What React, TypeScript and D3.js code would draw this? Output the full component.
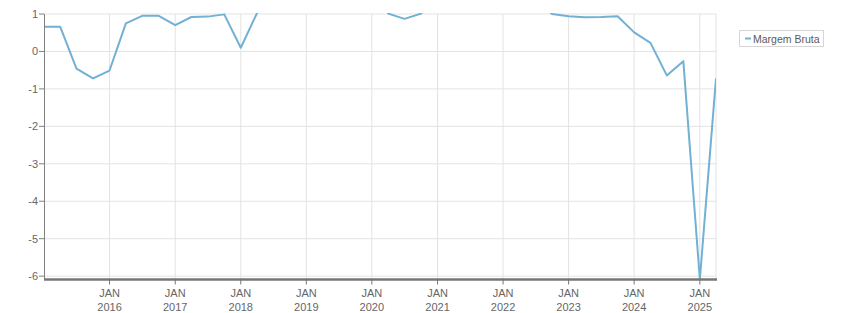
import React from "react";
import * as d3 from "d3";

const quarters: string[] = [
  "2015-01", "2015-04", "2015-07", "2015-10",
  "2016-01", "2016-04", "2016-07", "2016-10",
  "2017-01", "2017-04", "2017-07", "2017-10",
  "2018-01", "2018-04", "2018-07", "2018-10",
  "2019-01", "2019-04", "2019-07", "2019-10",
  "2020-01", "2020-04", "2020-07", "2020-10",
  "2021-01", "2021-04", "2021-07", "2021-10",
  "2022-01", "2022-04", "2022-07", "2022-10",
  "2023-01", "2023-04", "2023-07", "2023-10",
  "2024-01", "2024-04", "2024-07", "2024-10",
  "2025-01", "2025-04",
];

const margemBruta: number[] = [
  0.66, 0.66, -0.46, -0.72,
  -0.51, 0.75, 0.95, 0.95,
  0.70, 0.92, 0.93, 0.99,
  0.10, 1.02, 1.6, 2.1,
  2.5, 2.8, 3.0, 2.6,
  1.9, 1.01, 0.87, 1.01,
  1.5, 2.0, 2.3, 2.2,
  2.0, 1.8, 1.4, 1.0,
  0.94, 0.91, 0.92, 0.94,
  0.51, 0.23, -0.64, -0.26,
  -6.09, -0.72,
];

const yTicks: number[] = [1, 0, -1, -2, -3, -4, -5, -6];
const xTickYears: number[] = [2016, 2017, 2018, 2019, 2020, 2021, 2022, 2023, 2024, 2025];
const xTickMonth = "JAN";
const seriesName = "Margem Bruta";

const W = 851;
const H = 313;
const left = 44;
const right = 716;
const top = 14;
const bottom = 279.5;

export default function App() {
  const parse = d3.timeParse("%Y-%m");
  const dates = quarters.map((q) => parse(q) as Date);
  const x = d3.scaleTime().domain([dates[0], dates[dates.length - 1]]).range([left, right]);
  const y = d3.scaleLinear().domain([-6.09, 1]).range([bottom, top]);
  const data = dates.map((d, i) => ({ d, v: margemBruta[i] }));
  const line = d3
    .line<{ d: Date; v: number }>()
    .x((p) => x(p.d))
    .y((p) => y(p.v));

  const font = "'Liberation Sans', Arial, sans-serif";
  const grid = "#e3e3e3";
  const textCol = "#666";

  return (
    <svg
      width={W}
      height={H}
      style={{ position: "absolute", left: 0, top: 0, display: "block", background: "#fff" }}
    >
      <defs>
        <clipPath id="plotClip">
          <rect x={left} y={top - 1} width={right - left} height={bottom - top + 1} />
        </clipPath>
      </defs>
      {yTicks.map((t) => (
        <line key={"hg" + t} x1={left} x2={right} y1={y(t)} y2={y(t)} stroke={grid} strokeWidth={1} />
      ))}
      {xTickYears.map((yr) => {
        const xx = x(new Date(yr, 0, 1));
        return <line key={"vg" + yr} x1={xx} x2={xx} y1={top} y2={bottom} stroke={grid} strokeWidth={1} />;
      })}
      <line x1={right} x2={right} y1={top} y2={bottom} stroke={grid} strokeWidth={1} />

      <path
        d={line(data) || ""}
        fill="none"
        stroke="#72b0d4"
        strokeWidth={2}
        strokeLinejoin="round"
        clipPath="url(#plotClip)"
      />

      <line x1={left + 0.5} x2={left + 0.5} y1={top} y2={bottom} stroke="#808080" strokeWidth={1} />
      {yTicks.map((t) => (
        <g key={"yt" + t}>
          <line x1={left - 5} x2={left} y1={y(t)} y2={y(t)} stroke="#808080" strokeWidth={1} />
          <text
            x={left - 6}
            y={y(t)}
            dy="0.35em"
            textAnchor="end"
            fontFamily={font}
            fontSize={11}
            fill={textCol}
          >
            {t}
          </text>
        </g>
      ))}

      <line x1={left} x2={right + 1} y1={bottom} y2={bottom} stroke="#777" strokeWidth={2.5} />
      {xTickYears.map((yr) => {
        const xx = x(new Date(yr, 0, 1));
        return (
          <g key={"xt" + yr}>
            <line x1={xx} x2={xx} y1={bottom} y2={bottom + 5} stroke="#777" strokeWidth={1} />
            <text x={xx} y={297} textAnchor="middle" fontFamily={font} fontSize={11} fill={textCol}>
              {xTickMonth}
            </text>
            <text x={xx} y={311} textAnchor="middle" fontFamily={font} fontSize={11} fill={textCol}>
              {yr}
            </text>
          </g>
        );
      })}

      <rect x={739.5} y={30.5} width={84} height={16} fill="#fff" stroke="#d6d6d6" strokeWidth={1} />
      <line x1={745} x2={751} y1={38.5} y2={38.5} stroke="#72b0d4" strokeWidth={2} />
      <text x={753} y={42.5} fontFamily={font} fontSize={10.5} fill="#5a5a5a">
        {seriesName}
      </text>
    </svg>
  );
}
